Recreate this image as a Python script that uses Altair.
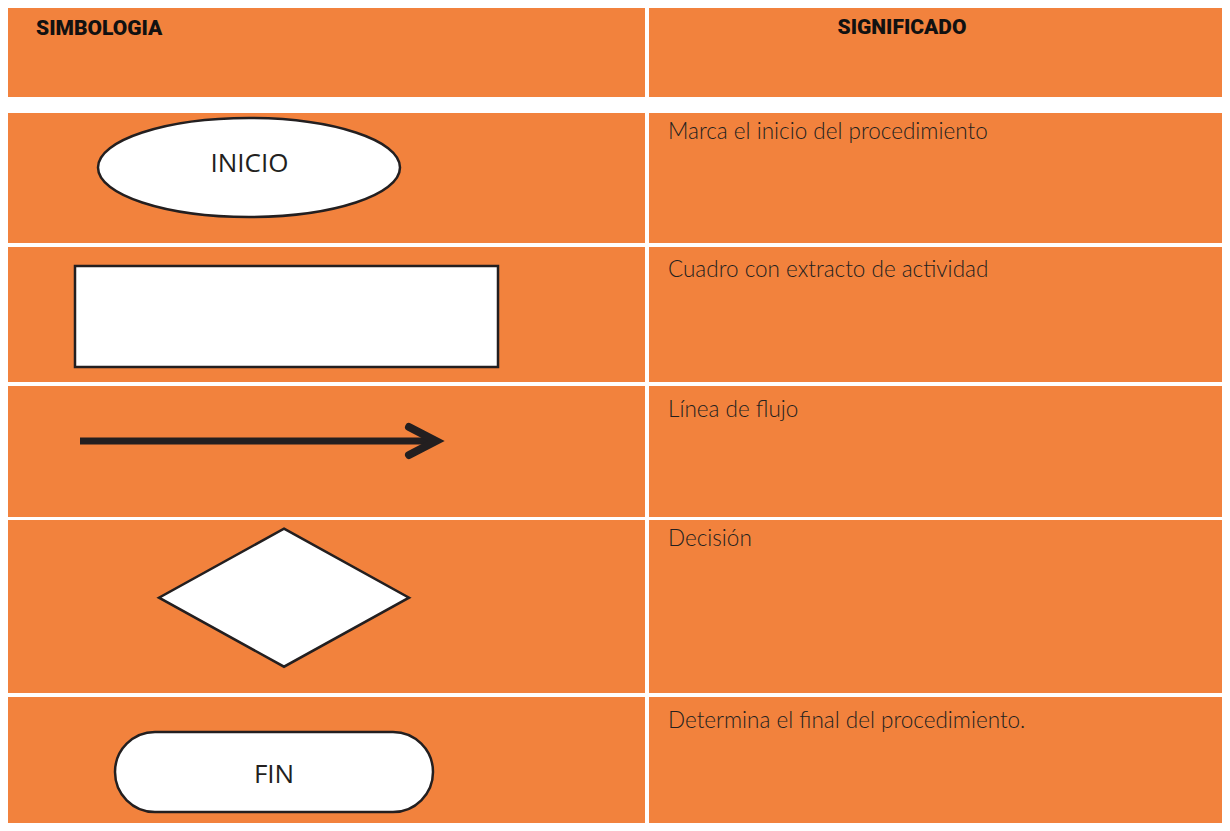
import altair as alt
import pandas as pd

# ---------------- content ----------------
headers = ["SIMBOLOGIA", "SIGNIFICADO"]
symbol_names = ["Inicio", "Actividad", "Línea de flujo", "Decisión", "Fin"]
symbol_labels = ["INICIO", "", "", "", "FIN"]
meanings = [
    "Marca el inicio del procedimiento",
    "Cuadro con extracto de actividad",
    "Línea de flujo",
    "Decisión",
    "Determina el final del procedimiento.",
]

# ---------------- layout (page pixels) ----------------
ORANGE = "#F2823D"
INK = "#231F20"
col_left = (8, 645)
col_right = (649, 1232)
header_band = (4, 97)
row_bands = [(113, 243), (247, 382), (386, 517), (520, 693), (697, 833)]
text_baselines = [139, 277, 417, 546, 728]

XS = alt.Scale(domain=[8, 1222], nice=False, zero=False)
YS = alt.Scale(domain=[8, 823], nice=False, zero=False, reverse=True)


def X(f="x"):
    return alt.X(f"{f}:Q", scale=XS, axis=None)


def Y(f="y"):
    return alt.Y(f"{f}:Q", scale=YS, axis=None)


# cells
cells = []
for band in [header_band] + row_bands:
    for col in (col_left, col_right):
        cells.append({"x": col[0], "x2": col[1], "y": band[0], "y2": band[1]})
cells = pd.DataFrame(cells)

cell_layer = alt.Chart(cells).mark_rect(fill=ORANGE, clip=True).encode(
    x=X(), x2="x2:Q", y=Y(), y2="y2:Q"
)

# header texts
head_df = pd.DataFrame({
    "label": headers,
    "x": [36, 902],
    "y": [35, 34],
})
head_left = alt.Chart(head_df.iloc[[0]]).mark_text(
    font="Roboto", fontWeight=900, fontSize=21, color="#111111",
    align="left", baseline="alphabetic"
).encode(x=X(), y=Y(), text="label:N")
head_right = alt.Chart(head_df.iloc[[1]]).mark_text(
    font="Roboto", fontWeight=900, fontSize=21, color="#111111",
    align="center", baseline="alphabetic"
).encode(x=X(), y=Y(), text="label:N")

# meaning texts
mean_df = pd.DataFrame({"label": meanings, "x": [668] * 5, "y": text_baselines})
mean_layer = alt.Chart(mean_df).mark_text(
    font="Lato", fontWeight=300, fontSize=22.5, color=INK,
    align="left", baseline="alphabetic"
).encode(x=X(), y=Y(), text="label:N")

# ---- symbols ----
c = 0.5523
def ellipse_path(k):
    return (f"M-1,0 C-1,{-c*k:.4f} {-c:.4f},{-k:.4f} 0,{-k:.4f} "
            f"C{c:.4f},{-k:.4f} 1,{-c*k:.4f} 1,0 "
            f"C1,{c*k:.4f} {c:.4f},{k:.4f} 0,{k:.4f} "
            f"C{-c:.4f},{k:.4f} -1,{c*k:.4f} -1,0 Z")

# ellipse (INICIO)
ell_df = pd.DataFrame({"symbol": [symbol_names[0]], "x": [249], "y": [167.5]})
ell_layer = alt.Chart(ell_df).mark_point(
    shape=ellipse_path(49.5 / 151), size=302 ** 2, filled=True,
    fill="white", stroke=INK, strokeWidth=2.5, opacity=1
).encode(x=X(), y=Y())

# activity rectangle
box_df = pd.DataFrame({"symbol": [symbol_names[1]], "x": [75], "x2": [498], "y": [266], "y2": [367]})
box_layer = alt.Chart(box_df).mark_rect(
    fill="white", stroke=INK, strokeWidth=2.5
).encode(x=X(), x2="x2:Q", y=Y(), y2="y2:Q")

# flow arrow
shaft_df = pd.DataFrame({"symbol": [symbol_names[2]], "x": [80], "x2": [430], "y": [441]})
shaft_layer = alt.Chart(shaft_df).mark_rule(
    stroke=INK, strokeWidth=7, strokeCap="butt"
).encode(x=X(), x2="x2:Q", y=Y())
head_pts = pd.DataFrame({"x": [409, 436, 409], "y": [427, 441, 455], "o": [0, 1, 2]})
arrow_head = alt.Chart(head_pts).mark_line(
    stroke=INK, strokeWidth=8, strokeCap="round", strokeJoin="miter"
).encode(x=X(), y=Y(), order="o:Q")

# decision diamond
dia_df = pd.DataFrame({"symbol": [symbol_names[3]], "x": [284], "y": [597.7]})
dia_k = 69 / 125
dia_layer = alt.Chart(dia_df).mark_point(
    shape=f"M0,{-dia_k:.4f} L1,0 L0,{dia_k:.4f} L-1,0 Z", size=250 ** 2,
    filled=True, fill="white", stroke=INK, strokeWidth=2.5, opacity=1
).encode(x=X(), y=Y())

# terminal (FIN)
fin_df = pd.DataFrame({"symbol": [symbol_names[4]], "x": [115], "x2": [433], "y": [732], "y2": [812]})
fin_layer = alt.Chart(fin_df).mark_rect(
    fill="white", stroke=INK, strokeWidth=2.5, cornerRadius=40
).encode(x=X(), x2="x2:Q", y=Y(), y2="y2:Q")

# symbol labels
lab_df = pd.DataFrame({"label": [symbol_labels[0], symbol_labels[4]], "x": [249.5, 274], "y": [172, 783]})
lab_layer = alt.Chart(lab_df).mark_text(
    font="Open Sans", fontSize=26, color=INK, align="center", baseline="alphabetic"
).encode(x=X(), y=Y(), text="label:N")

chart = alt.layer(
    cell_layer, head_left, head_right, mean_layer,
    ell_layer, box_layer, shaft_layer, arrow_head, dia_layer, fin_layer, lab_layer
).properties(
    width=1214, height=815, padding=0,
    autosize=alt.AutoSizeParams(type="none"),
    background="white",
).configure_view(stroke=None)

chart.save("out.html", embed_options={"renderer": "svg", "actions": False})
